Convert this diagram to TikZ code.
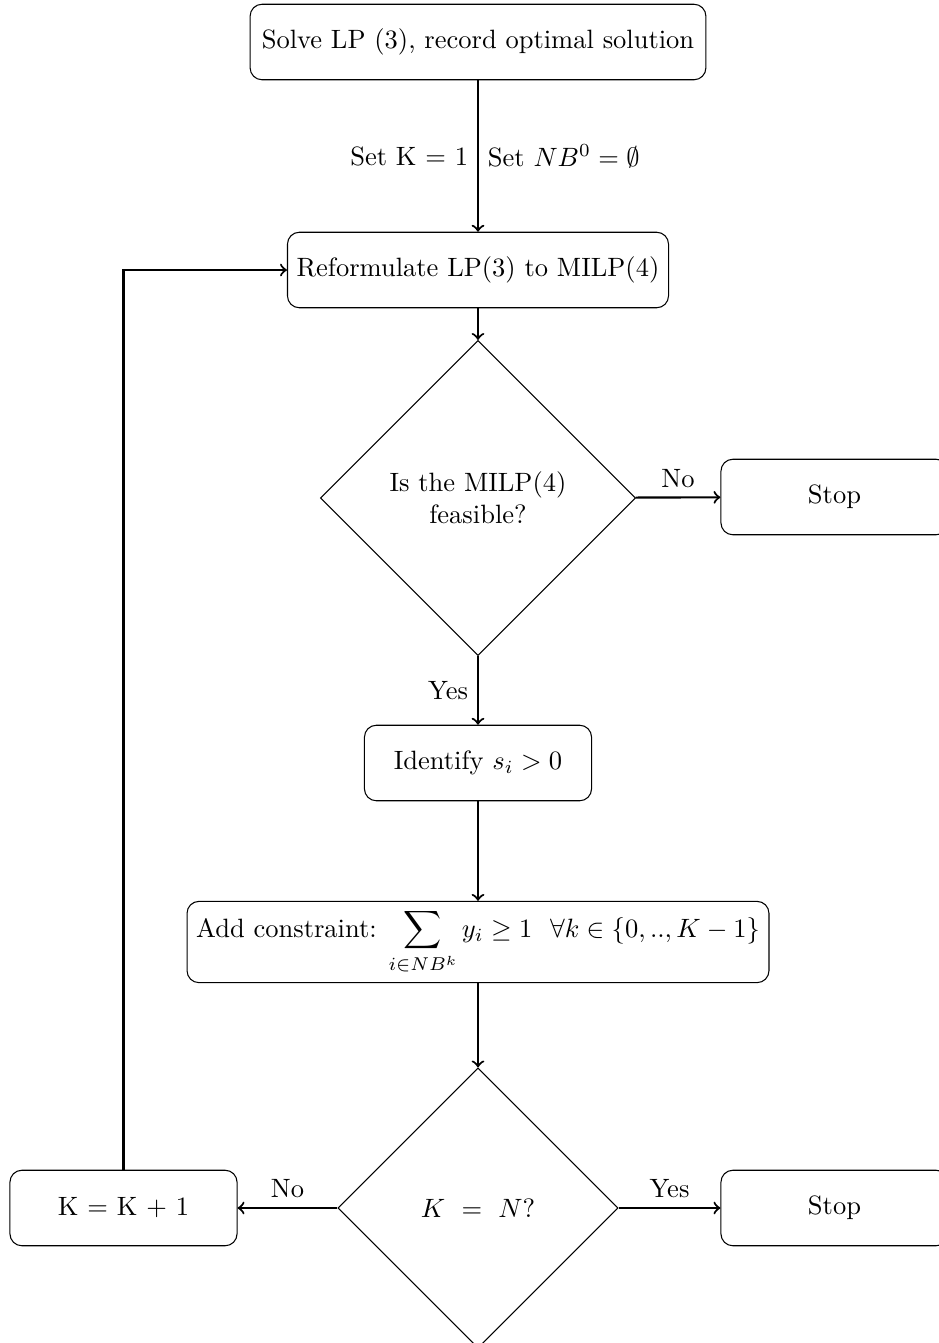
\documentclass[tikz,border=0pt]{standalone}
\usetikzlibrary{shapes.geometric}
\begin{document}
\begin{tikzpicture}[x=0.37736pt,y=-0.37736pt,
  box/.style={draw,rounded corners=4.5pt,minimum height=28.5pt,minimum width=85.7pt,align=center,inner sep=3pt},
  dia/.style={draw,diamond,aspect=1,align=center,inner sep=0pt},
  arr/.style={->,thick}]
\useasboundingbox (0,0) rectangle (938,1343);
\node[box,minimum width=172pt] (solve) at (478,42) {Solve LP (3), record optimal solution};
\node[box,minimum width=143.8pt] (ref) at (478,270) {Reformulate LP(3) to MILP(4)};
\node[dia,minimum width=118.9pt,minimum height=118.9pt] (d1) at (478,498) {Is the MILP(4)\\feasible?};
\node[box] (stop1) at (834.5,497) {Stop};
\node[box] (ident) at (478,763) {Identify $s_i > 0$};
\node[box,minimum width=219.6pt] (add) at (478,942) {Add constraint: $\displaystyle\sum_{i\in NB^k} y_i \geq 1 \ \ \forall k \in \{0,..,K-1\}$};
\node[dia,minimum width=105.7pt,minimum height=105.7pt] (d2) at (478,1208) {$K \ = \ N$?};
\node[box] (kk) at (123.5,1208) {K = K + 1};
\node[box] (stop2) at (834.5,1208) {Stop};
\coordinate (corner) at (123.5,270);
\draw[arr] (solve) -- node[left] {Set K = 1} node[right] {Set $NB^0=\emptyset$} (ref);
\draw[arr] (ref) -- (d1);
\draw[arr] (d1) -- node[above] {No} (stop1);
\draw[arr] (d1) -- node[left] {Yes} (ident);
\draw[arr] (ident) -- (add);
\draw[arr] (add) -- (d2);
\draw[arr] (d2) -- node[above] {No} (kk);
\draw[arr] (d2) -- node[above] {Yes} (stop2);
\draw[arr] (kk) -- (corner) -- (ref);
\end{tikzpicture}
\end{document}
